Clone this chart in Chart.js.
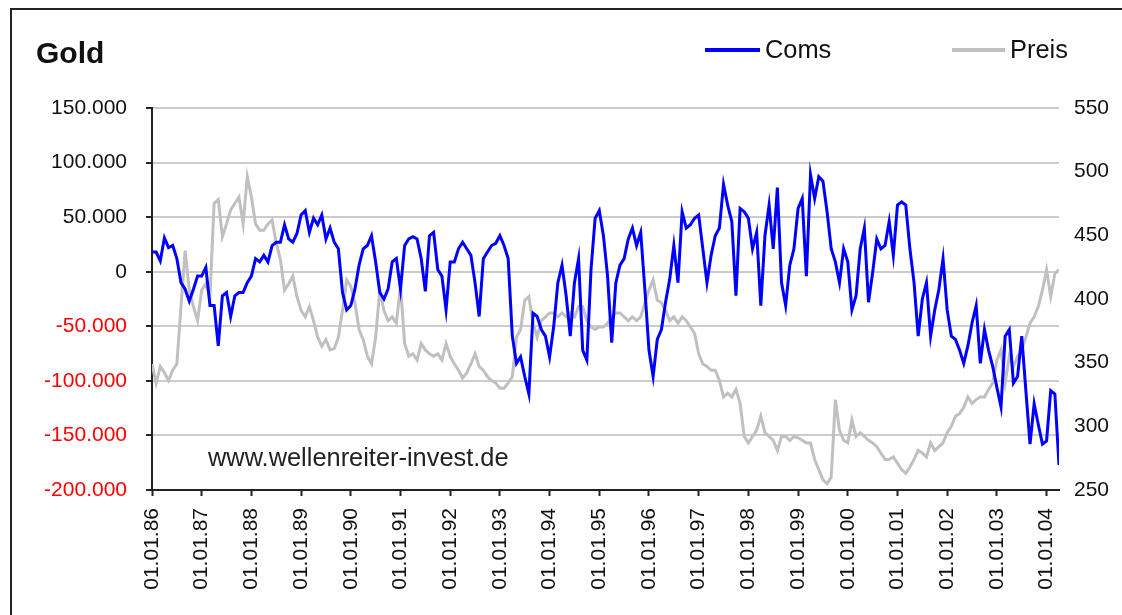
<!DOCTYPE html>
<html>
<head>
<meta charset="utf-8">
<script src="https://cdn.jsdelivr.net/npm/chart.js@4.4.1/dist/chart.umd.min.js"></script>
<style>
html,body{margin:0;padding:0;background:#fff;overflow:hidden;}
#wrap{position:relative;width:1122px;height:615px;overflow:hidden;font-family:"Liberation Sans",Arial,sans-serif;background:#fff;}
#frame{position:absolute;left:10px;top:8px;width:1200px;height:700px;border-left:2px solid #222;border-top:2px solid #222;}
canvas{position:absolute;left:0;top:0;}
.txt{position:absolute;white-space:nowrap;color:#111;line-height:1;}
.lgline{position:absolute;height:4px;}
</style>
</head>
<body>
<div id="wrap">
  <div id="frame"></div>
  <canvas id="c" width="1122" height="615"></canvas>
  <div class="txt" id="title" style="left:36px;top:37.6px;font-size:30px;font-weight:bold;">Gold</div>
  <div id="legend"></div>
  <div class="txt" id="wm" style="left:208px;top:444.5px;font-size:25.4px;color:#222;">www.wellenreiter-invest.de</div>
</div>
<script>
// ---- data (monthly readings, Jan 1986 .. Apr 2004) ----
const startYear = 1986;
const yearLabels = ['01.01.86','01.01.87','01.01.88','01.01.89','01.01.90','01.01.91','01.01.92',
  '01.01.93','01.01.94','01.01.95','01.01.96','01.01.97','01.01.98','01.01.99','01.01.00',
  '01.01.01','01.01.02','01.01.03','01.01.04'];
const seriesNames = ['Coms', 'Preis'];

const coms = [
  18000,18000,10000,31000,22000,24000,12000,-10000,-16000,-27000,-16000,-4000,
  -4000,4000,-31000,-31000,-68000,-22000,-19000,-41000,-22000,-19000,-19000,-10000,
  -4000,12000,9000,15000,9000,24000,27000,27000,43000,30000,27000,35000,
  52000,56000,36000,49000,43000,52000,30000,40000,27000,21000,-19000,-35000,
  -31000,-16000,6000,21000,24000,33000,9000,-19000,-25000,-16000,9000,12000,
  -16000,24000,30000,32000,30000,12000,-18000,33000,36000,2000,-4000,-35000,
  9000,9000,21000,27000,21000,15000,-10000,-41000,12000,18000,24000,26000,
  33000,24000,12000,-59000,-84000,-78000,-96000,-112000,-38000,-41000,-53000,-59000,
  -78000,-50000,-10000,6000,-22000,-59000,-10000,12000,-72000,-81000,2000,49000,
  56000,33000,-4000,-65000,-10000,6000,12000,30000,40000,24000,36000,-16000,
  -72000,-96000,-62000,-53000,-28000,-7000,24000,-10000,55000,40000,43000,49000,
  52000,21000,-10000,15000,33000,40000,80000,61000,46000,-22000,58000,55000,
  49000,21000,36000,-31000,33000,61000,21000,77000,-10000,-31000,6000,21000,
  58000,67000,-4000,89000,67000,87000,83000,55000,21000,9000,-10000,21000,
  9000,-35000,-22000,21000,40000,-28000,-1000,30000,21000,24000,46000,15000,
  61000,64000,61000,21000,-10000,-59000,-25000,-10000,-59000,-35000,-16000,12000,
  -35000,-59000,-62000,-72000,-84000,-68000,-47000,-31000,-84000,-53000,-72000,-87000,
  -106000,-124000,-59000,-53000,-102000,-96000,-59000,-109000,-158000,-121000,-140000,-158000,
  -155000,-109000,-112000,-177000
];

const preis = [
  349,334,347,342,336,344,349,394,438,407,394,383,
  407,412,402,475,478,449,459,470,475,480,459,496,
  480,459,454,454,459,462,444,431,407,412,418,402,
  391,386,394,383,370,363,368,360,361,370,391,415,
  410,397,376,368,355,349,370,407,391,383,386,381,
  410,365,355,357,352,365,360,357,355,357,352,365,
  355,349,344,338,342,349,357,347,344,339,336,334,
  330,330,334,339,370,376,399,402,381,370,383,386,
  389,389,386,389,386,389,386,394,394,383,378,376,
  378,378,381,386,389,389,386,383,386,383,386,397,
  407,415,399,397,391,383,386,381,386,383,378,373,
  357,349,347,344,344,336,323,326,323,329,318,292,
  287,292,297,308,295,292,289,281,292,292,289,292,
  291,289,287,287,274,266,258,255,260,321,297,289,
  287,305,292,295,292,289,287,284,279,274,274,276,
  271,266,263,268,274,281,279,276,287,281,284,287,
  295,300,308,310,315,323,318,321,323,323,329,334,
  352,360,334,355,347,355,360,370,381,386,394,407,
  423,402,420,423
];

const monthX = coms.map((_, i) => startYear + i / 12);

const FONT = '"Liberation Sans", Arial, sans-serif';
function fmtDE(v) {
  const s = Math.abs(v).toString().replace(/\B(?=(\d{3})+(?!\d))/g, '.');
  return (v < 0 ? '-' : '') + s;
}

const chart = new Chart(document.getElementById('c'), {
  type: 'line',
  data: {
    datasets: [
      { label: seriesNames[0], data: monthX.map((x, i) => ({x, y: coms[i]})),
        borderColor: '#0000ff', backgroundColor: '#0000ff', borderWidth: 3, yAxisID: 'y' },
      { label: seriesNames[1], data: monthX.map((x, i) => ({x, y: preis[i]})),
        borderColor: '#c0c0c0', backgroundColor: '#c0c0c0', borderWidth: 3, yAxisID: 'y1' }
    ]
  },
  options: {
    responsive: false,
    animation: false,
    devicePixelRatio: 1,
    layout: { padding: { top: 108, left: 0, right: 0, bottom: 0 } },
    elements: { point: { radius: 0, hoverRadius: 0 }, line: { tension: 0 } },
    plugins: { legend: { display: false }, title: { display: false }, tooltip: { enabled: false } },
    scales: {
      x: {
        type: 'linear',
        min: startYear,
        max: startYear + (coms.length - 1) / 12,
        afterFit: s => { s.height = 125; },
        grid: { drawOnChartArea: false, drawTicks: true, tickLength: 6, tickColor: '#222', tickWidth: 2 },
        border: { display: true, color: '#222', width: 2 },
        ticks: {
          stepSize: 1, includeBounds: false, autoSkip: false,
          minRotation: 90, maxRotation: 90, padding: 12,
          color: '#111', font: { family: FONT, size: 21 },
          callback: v => yearLabels[Math.round(v) - startYear] || ''
        }
      },
      y: {
        position: 'left',
        min: -200000, max: 150000,
        afterFit: s => { s.width = 152; },
        grid: { color: '#cccccc', lineWidth: 2, tickColor: '#222', tickWidth: 2, tickLength: 6 },
        border: { color: '#222', width: 2 },
        ticks: {
          stepSize: 50000, padding: 19,
          color: ctx => (ctx.tick && ctx.tick.value < 0) ? '#ff0000' : '#111',
          font: { family: FONT, size: 21 },
          callback: v => fmtDE(v)
        }
      },
      y1: {
        position: 'right',
        min: 250, max: 550,
        afterFit: s => { s.width = 63; },
        grid: { drawOnChartArea: false, drawTicks: false },
        border: { display: false },
        ticks: { stepSize: 50, padding: 15, color: '#111', font: { family: FONT, size: 21 } }
      }
    }
  }
});

// HTML legend built from the datasets
const legendPos = [{line: 705, w: 55, text: 765}, {line: 952, w: 53, text: 1010}];
const lg = document.getElementById('legend');
chart.data.datasets.forEach((ds, i) => {
  const l = document.createElement('div');
  l.className = 'lgline';
  l.style.left = legendPos[i].line + 'px';
  l.style.top = '48px';
  l.style.width = legendPos[i].w + 'px';
  l.style.background = ds.borderColor;
  lg.appendChild(l);
  const t = document.createElement('div');
  t.className = 'txt';
  t.style.left = legendPos[i].text + 'px';
  t.style.top = '37.3px';
  t.style.fontSize = '25.4px';
  t.textContent = ds.label;
  lg.appendChild(t);
});
</script>
</body>
</html>
